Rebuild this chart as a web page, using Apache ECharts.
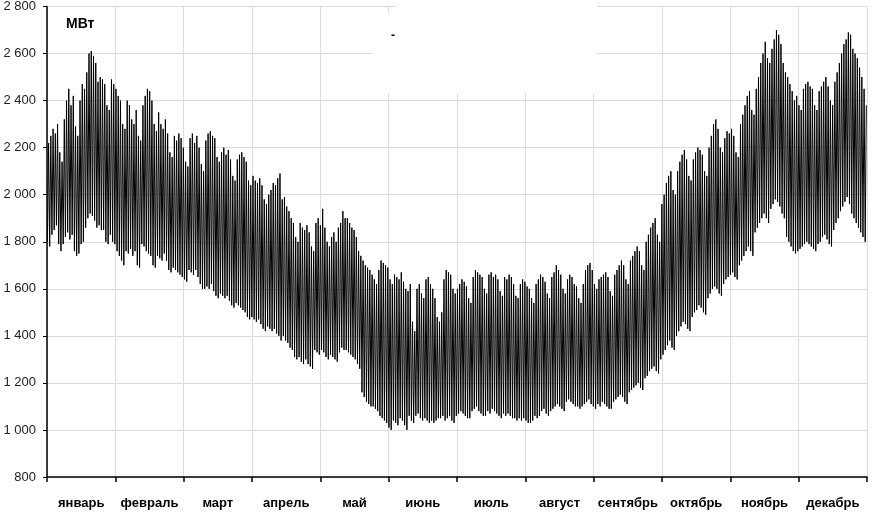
<!DOCTYPE html>
<html>
<head>
<meta charset="utf-8">
<script src="https://cdn.jsdelivr.net/npm/echarts@6/dist/echarts.min.js"></script>
<style>
  html, body { margin: 0; padding: 0; background: #fff; }
  #chart { width: 890px; height: 514px; }
</style>
</head>
<body>
<div id="chart"></div>
<script>
// месяцы по оси X
var months = ['январь', 'февраль', 'март', 'апрель', 'май', 'июнь',
              'июль', 'август', 'сентябрь', 'октябрь', 'ноябрь', 'декабрь'];

var yTicks = [800, 1000, 1200, 1400, 1600, 1800, 2000, 2200, 2400, 2600, 2800];

// суточные максимумы нагрузки, МВт (одна строка = неделя)
var peakMW = [
  2220, 2250, 2280, 2260, 2300, 2180, 2140,
  2320, 2400, 2450, 2380, 2420, 2290, 2250,
  2400, 2470, 2450, 2520, 2600, 2610, 2590,
  2560, 2480, 2500, 2490, 2470, 2380, 2360,
  2490, 2470, 2450, 2420, 2400, 2300, 2280,
  2400, 2380, 2320, 2300, 2360, 2250, 2230,
  2380, 2420, 2450, 2440, 2400, 2300, 2270,
  2350, 2300, 2280, 2320, 2260, 2180, 2160,
  2250, 2230, 2260, 2240, 2200, 2140, 2120,
  2240, 2260, 2220, 2250, 2200, 2130, 2100,
  2230, 2260, 2270, 2250, 2240, 2160, 2140,
  2180, 2200, 2170, 2190, 2150, 2080, 2060,
  2150, 2170, 2180, 2160, 2140, 2060, 2040,
  2080, 2060, 2050, 2070, 2040, 1980, 1960,
  2000, 2020, 2050, 2040, 2070, 2090, 1980,
  1990, 1950, 1930, 1900, 1880, 1820, 1800,
  1880, 1860, 1850, 1870, 1840, 1780, 1760,
  1880, 1900, 1870, 1940, 1860, 1800, 1780,
  1820, 1840, 1800, 1860, 1880, 1930, 1900,
  1900, 1880, 1860, 1850, 1820, 1760, 1740,
  1720, 1700, 1690, 1680, 1660, 1640, 1620,
  1680, 1720, 1710, 1700, 1690, 1640, 1620,
  1660, 1650, 1640, 1670, 1630, 1600, 1590,
  1620, 1460, 1420, 1600, 1620, 1580, 1560,
  1640, 1650, 1620, 1600, 1560, 1480, 1460,
  1500, 1640, 1680, 1670, 1660, 1600, 1580,
  1600, 1620, 1640, 1630, 1610, 1560, 1540,
  1650, 1680, 1670, 1660, 1650, 1600, 1580,
  1660, 1670, 1650, 1660, 1640, 1590, 1570,
  1650, 1640, 1660, 1650, 1620, 1570, 1560,
  1620, 1640, 1630, 1610, 1600, 1560, 1540,
  1620, 1640, 1660, 1650, 1630, 1580, 1560,
  1650, 1670, 1700, 1680, 1660, 1600, 1580,
  1640, 1660, 1650, 1620, 1610, 1560, 1540,
  1620, 1680, 1700, 1710, 1680, 1620, 1600,
  1640, 1650, 1660, 1670, 1650, 1590, 1570,
  1660, 1680, 1700, 1720, 1700, 1640, 1620,
  1720, 1740, 1760, 1780, 1760, 1700, 1680,
  1800, 1830, 1860, 1880, 1900, 1830, 1800,
  1960, 2000, 2050, 2080, 2100, 2020, 2000,
  2100, 2140, 2170, 2190, 2150, 2080, 2060,
  2150, 2180, 2200, 2190, 2170, 2100, 2080,
  2200, 2250, 2300, 2320, 2280, 2200, 2180,
  2240, 2270, 2260, 2280, 2250, 2180, 2160,
  2300, 2340, 2380, 2420, 2440, 2360, 2340,
  2450, 2500, 2560, 2600, 2650, 2580, 2560,
  2620, 2660, 2700, 2680, 2640, 2560, 2520,
  2500, 2470, 2440, 2400, 2420, 2380, 2360,
  2450, 2470, 2480, 2460, 2450, 2380, 2360,
  2440, 2460, 2480, 2500, 2460, 2400, 2380,
  2480, 2520, 2560, 2600, 2640, 2660, 2690,
  2680, 2620, 2600, 2580, 2540, 2500, 2450,
  2380
];

// суточные минимумы нагрузки, МВт
var troughMW = [
  1800, 1780, 1830, 1850, 1870, 1790, 1760,
  1790, 1820, 1840, 1810, 1830, 1760, 1740,
  1750, 1790, 1800, 1860, 1900, 1920, 1910,
  1890, 1860, 1870, 1850, 1850, 1800, 1790,
  1830, 1800, 1790, 1760, 1740, 1720, 1700,
  1760, 1750, 1770, 1740, 1760, 1700, 1690,
  1790, 1780, 1760, 1750, 1740, 1700, 1690,
  1740, 1730, 1720, 1750, 1720, 1680, 1670,
  1690, 1680, 1670, 1660, 1650, 1640, 1630,
  1680, 1670, 1660, 1680, 1650, 1620, 1600,
  1600, 1610, 1600, 1620, 1590, 1570, 1560,
  1580, 1570, 1560, 1570, 1550, 1530, 1520,
  1540, 1530, 1520, 1510, 1500, 1480, 1470,
  1480, 1470, 1460, 1470, 1450, 1430, 1420,
  1440, 1430, 1420, 1430, 1410, 1400, 1380,
  1400, 1380, 1370, 1350, 1340, 1310, 1300,
  1310, 1290, 1280, 1300, 1280, 1270, 1260,
  1340, 1330, 1320, 1340, 1330, 1310, 1300,
  1320, 1310, 1300, 1290, 1330, 1350, 1340,
  1340, 1330, 1320, 1310, 1300, 1280, 1260,
  1160, 1140, 1120, 1110, 1100, 1100, 1090,
  1080, 1060, 1050, 1040, 1030, 1010, 1000,
  1040, 1030, 1020, 1050, 1040, 1020, 1000,
  1060, 1040, 1030, 1060, 1070, 1050, 1040,
  1050, 1040, 1030, 1040, 1030, 1040, 1050,
  1050, 1060, 1040, 1050, 1060, 1040, 1030,
  1060, 1070, 1080, 1070, 1060, 1050, 1050,
  1080, 1090, 1100, 1080, 1070, 1060, 1060,
  1080, 1070, 1090, 1080, 1070, 1060, 1050,
  1070, 1060, 1070, 1060, 1050, 1050, 1040,
  1050, 1040, 1050, 1040, 1030, 1030, 1040,
  1060, 1050, 1060, 1080, 1090, 1070, 1060,
  1080, 1090, 1100, 1110, 1100, 1090, 1080,
  1120, 1130, 1120, 1110, 1100, 1100, 1090,
  1100, 1110, 1120, 1130, 1110, 1100, 1090,
  1110, 1100, 1120, 1110, 1100, 1090, 1090,
  1120, 1130, 1140, 1150, 1140, 1120, 1110,
  1160, 1170, 1180, 1190, 1200, 1180, 1170,
  1220, 1230, 1250, 1260, 1270, 1250, 1240,
  1300, 1320, 1340, 1360, 1380, 1350, 1340,
  1400, 1420, 1440, 1460, 1450, 1430, 1420,
  1480, 1500, 1510, 1530, 1520, 1500, 1490,
  1560, 1580, 1600, 1610, 1600, 1580, 1570,
  1620, 1640, 1650, 1660, 1670, 1650, 1640,
  1700, 1720, 1740, 1760, 1780, 1760, 1740,
  1840, 1860, 1880, 1900, 1920, 1900, 1880,
  1940, 1960, 1980, 1970, 1950, 1920, 1900,
  1820, 1800, 1780, 1760, 1750, 1760, 1770,
  1780, 1790, 1800, 1790, 1780, 1770, 1760,
  1790, 1800, 1820, 1830, 1810, 1790, 1780,
  1850, 1880, 1900, 1930, 1950, 1970, 1990,
  1960, 1920, 1900, 1880, 1860, 1840, 1820,
  1800
];

// ночной минимум -> вечерний максимум, по дням
var loadLine = [];
for (var d = 0; d < peakMW.length; d++) {
  loadLine.push([d + 0.2, troughMW[d]]);
  loadLine.push([d + 0.7, peakMW[d]]);
}

var chart = echarts.init(document.getElementById('chart'), null, { renderer: 'canvas' });

var option = {
  backgroundColor: '#fff',
  animation: false,
  grid: { left: 47, right: 23, top: 6, bottom: 37 },
  xAxis: [
    {
      type: 'category',
      data: months,
      boundaryGap: true,
      axisLine: { lineStyle: { color: '#000', width: 1.5 } },
      axisTick: { show: true, length: 5, alignWithLabel: false, lineStyle: { color: '#000', width: 1.5 } },
      axisLabel: {
        interval: 0, margin: 20,
        color: '#000', fontSize: 13, fontWeight: 'bold',
        fontFamily: 'Liberation Sans, Arial, sans-serif'
      },
      splitLine: { show: true, interval: 0, lineStyle: { color: '#dcdcdc', width: 1 } }
    },
    {
      type: 'value',
      min: 0, max: 365,
      show: false
    }
  ],
  yAxis: {
    type: 'value',
    min: yTicks[0], max: yTicks[yTicks.length - 1], interval: 200,
    axisLine: { show: true, lineStyle: { color: '#000', width: 1.5 } },
    axisTick: { show: true, length: 4, lineStyle: { color: '#000' } },
    axisLabel: {
      margin: 11, color: '#222', fontSize: 13,
      fontFamily: 'Liberation Sans, Arial, sans-serif',
      formatter: function (v) { return String(v).replace(/\B(?=(\d{3})+(?!\d))/g, ' '); }
    },
    splitLine: { lineStyle: { color: '#dcdcdc', width: 1 } }
  },
  graphic: [
    // белое поле легенды поверх сетки
    { type: 'rect', shape: { x: 373, y: 13, width: 224, height: 80 }, style: { fill: '#fff' }, z: 10 },
    { type: 'rect', shape: { x: 396, y: 0, width: 201, height: 14 }, style: { fill: '#fff' }, z: 10 },
    { type: 'text', left: 391, top: 30, style: { text: '-', fill: '#000', font: 'bold 12px Liberation Sans' }, z: 11 },
    { type: 'text', left: 66, top: 17, style: { text: 'МВт', fill: '#000', font: 'bold 14px Liberation Sans, Arial' }, z: 11 }
  ],
  series: [
    {
      type: 'line',
      xAxisIndex: 1,
      data: loadLine,
      symbol: 'none',
      lineStyle: { color: '#000', width: 1 },
      z: 5
    }
  ]
};
chart.setOption(option);
</script>
</body>
</html>
